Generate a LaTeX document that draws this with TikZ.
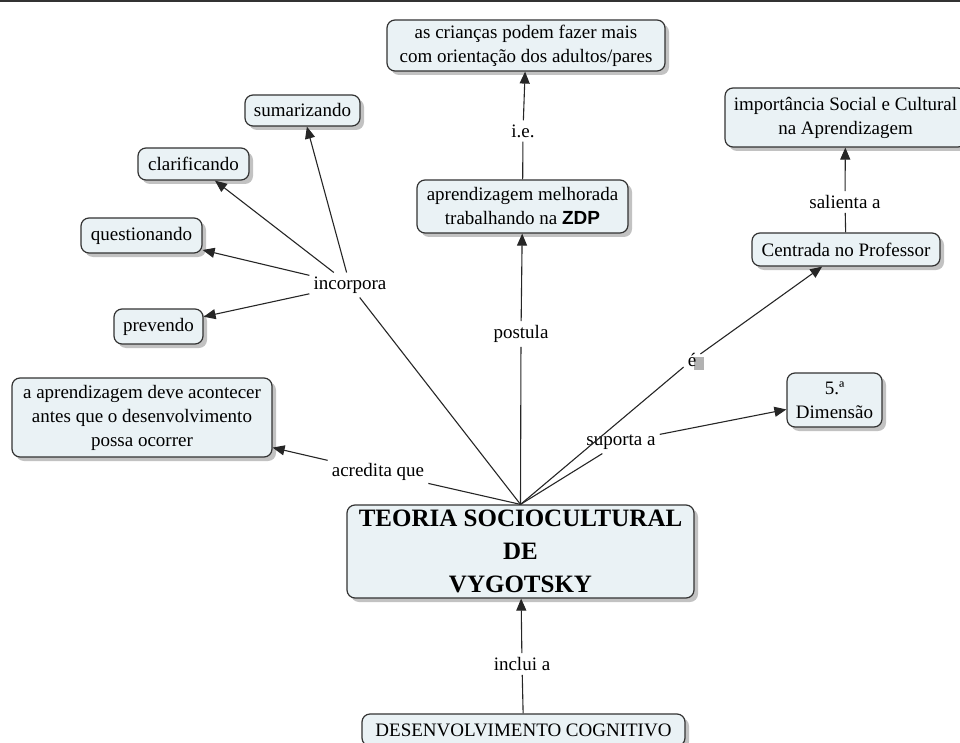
\documentclass[tikz,border=0pt]{standalone}
\usepackage{fontspec}
\setmainfont{Liberation Serif}
\newfontfamily\zdpfont{Liberation Sans}
\usetikzlibrary{arrows.meta,shadows}
\definecolor{boxfill}{HTML}{EAF2F5}
\definecolor{boxline}{HTML}{333333}
\begin{document}
\begin{tikzpicture}[x=1pt,y=-1pt,
  concept/.style={draw=boxline, line width=1.2pt, fill=boxfill, rounded corners=8pt,
    align=center, font=\fontsize{19}{24}\selectfont, inner sep=0pt,
    drop shadow={shadow xshift=4pt, shadow yshift=-4pt, fill=black!40, opacity=0.6}},
  lab/.style={font=\fontsize{19}{24}\selectfont, inner sep=4pt},
  link/.style={draw=black!85, line width=1.1pt},
  arr/.style={link, -{Triangle[length=12pt,width=10pt]}}]
\useasboundingbox (0,0) rectangle (960,743);
\fill[black!80] (0,0) rectangle (960,2);

% concepts
\node[concept, minimum width=278pt, minimum height=51pt] (crian) at (526,45.5)
  {as crianças podem fazer mais\\com orientação dos adultos/pares};
\node[concept, minimum width=241pt, minimum height=59pt] (import) at (845.5,117.5)
  {importância Social e Cultural\\na Aprendizagem};
\node[concept, minimum width=188pt, minimum height=33pt] (centr) at (846,249.5)
  {Centrada no Professor};
\node[concept, minimum width=115pt, minimum height=31pt] (sumar) at (302.5,110.5)
  {sumarizando};
\node[concept, minimum width=111pt, minimum height=32pt] (clarif) at (193.5,164)
  {clarificando};
\node[concept, minimum width=121pt, minimum height=35pt] (quest) at (141.5,235.5)
  {questionando};
\node[concept, minimum width=89pt, minimum height=35pt] (prev) at (158.5,326.5)
  {prevendo};
\node[concept, minimum width=260pt, minimum height=79pt] (aprend) at (142,417.5)
  {a aprendizagem deve acontecer\\antes que o desenvolvimento\\possa ocorrer};
\node[concept, minimum width=211pt, minimum height=53pt] (zdp) at (522.5,206.5)
  {aprendizagem melhorada\\trabalhando na {\zdpfont\bfseries ZDP}};
\node[concept, minimum width=95pt, minimum height=54pt] (dim) at (834.5,400)
  {5.ª\\Dimensão};
\node[concept, minimum width=347pt, minimum height=93pt,
  font=\fontsize{25}{33}\selectfont\bfseries] (main) at (520.5,551.5)
  {TEORIA SOCIOCULTURAL\\DE\\VYGOTSKY};
\node[concept, minimum width=323pt, minimum height=32pt] (desenv) at (523.5,730)
  {DESENVOLVIMENTO COGNITIVO};

% linking phrases
\node[lab] (incorp) at (350,285) {incorpora};
\node[lab] (acred) at (378,472) {acredita que};
\node[lab] (postula) at (521,334) {postula};
\node[lab] (ie) at (523,131) {i.e.};
\fill[black!30] (694,357) rectangle (704,370);
\node[lab] (e) at (692,360) {é};
\node[lab] (salient) at (845,202) {salienta a};
\node[lab] (suporta) at (621,442) {suporta a};
\node[lab] (inclui) at (522,664) {inclui a};

% connectors
\draw[link] (main.north) -- (incorp);
\draw[arr] (incorp) -- (sumar);
\draw[arr] (incorp) -- (clarif);
\draw[arr] (incorp) -- (quest);
\draw[arr] (incorp) -- (prev);

\draw[link] (main.north) -- (acred);
\draw[arr] (acred) -- (aprend);

\draw[link] (main.north) -- (postula);
\draw[arr] (postula) -- (zdp);
\draw[link] (zdp) -- (ie);
\draw[arr] (ie) -- (crian);

\draw[link] (main.north) -- (e);
\draw[arr] (e) -- (centr);
\draw[link] (centr) -- (salient);
\draw[arr] (salient) -- (import);

\draw[link] (main.north) -- (suporta);
\draw[arr] (suporta) -- (dim);

\draw[link] (desenv) -- (inclui);
\draw[arr] (inclui) -- (main);
\end{tikzpicture}
\end{document}
